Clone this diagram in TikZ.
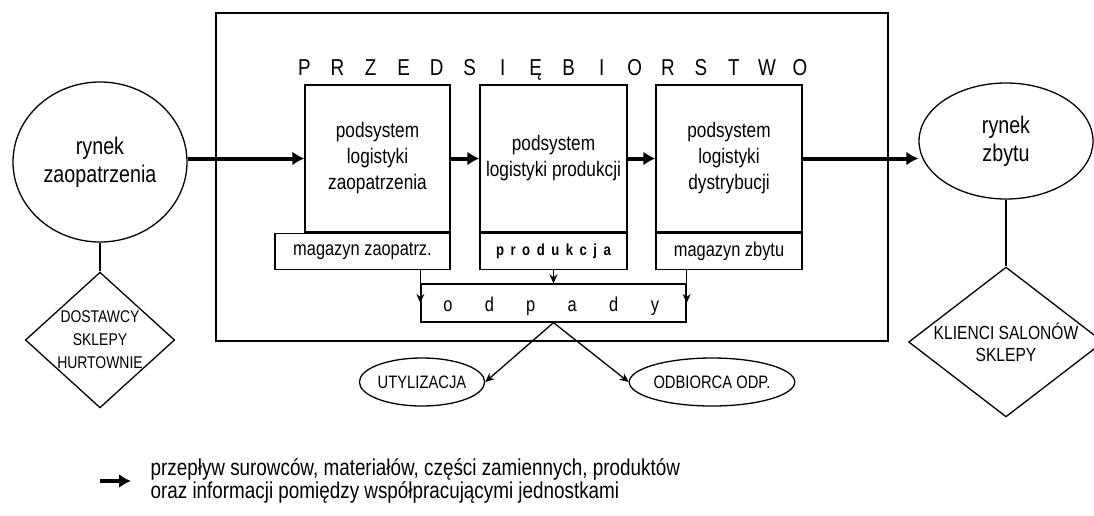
\documentclass[tikz,border=0pt]{standalone}
\usepackage{fontspec}
\setmainfont{Liberation Sans}[FakeStretch=0.82]
\usepackage{tikz}
\usetikzlibrary{arrows.meta}
\usetikzlibrary{positioning}
\usetikzlibrary{shapes.geometric}

\begin{document}
\begin{tikzpicture}[x=1pt,y=-1pt,line width=1.3pt,
  rynek/.style={draw,ellipse,inner sep=0pt,align=center,font=\fontsize{24}{28}\selectfont},
  podsys/.style={draw,inner sep=0pt,minimum height=147,align=center,font=\fontsize{21}{26}\selectfont},
  magazyn/.style={draw,inner sep=0pt,minimum height=36,font=\fontsize{20}{24}\selectfont},
  romb/.style={draw,diamond,inner sep=0pt,align=center},
  odpad/.style={draw,ellipse,inner sep=0pt,minimum width=115,minimum height=48,font=\fontsize{18}{22}\selectfont},
  litera/.style={anchor=base,inner sep=0pt},
  gruba/.style={line width=4pt,-{Latex[length=12pt,width=14pt]}},
  cienka/.style={line width=1.3pt,-{Stealth[length=9pt,width=8pt]}}]
\useasboundingbox (0,0) rectangle (1094,515);
\draw[line width=1.7pt] (216,13) rectangle (888,341);
\foreach \l [count=\i from 0] in {P,R,Z,E,D,S,I,Ę,B,I,O,R,S,T,W,O}
  \node[litera,font=\fontsize{23}{26}\selectfont] (t\i) at (304.5+33.03*\i,75) {\l};
\node[rynek,minimum width=174,minimum height=160] (rz) at (100,162) {rynek\\zaopatrzenia};
\node[rynek,minimum width=174,minimum height=116] (rb) at (1006,141) {rynek\\zbytu};
\node[podsys,minimum width=145] (p1) at (377.5,158.5) {podsystem\\logistyki\\zaopatrzenia};
\node[podsys,minimum width=147] (p2) at (553.5,158.5) {podsystem\\logistyki produkcji};
\node[podsys,minimum width=146] (p3) at (729,158.5) {podsystem\\logistyki\\dystrybucji};
\node[magazyn,minimum width=175,anchor=north east] (m1) at (p1.south east) {magazyn zaopatrz.};
\node[magazyn,minimum width=147,below=0pt of p2,font=\fontsize{16}{18}\selectfont\bfseries\addfontfeatures{LetterSpace=18}] (m2) {p r o d u k c j a};
\node[magazyn,minimum width=146,below=0pt of p3] (m3) {magazyn zbytu};
\node[draw,inner sep=0pt,minimum width=265,minimum height=38] (odp) at (553.5,303) {};
\foreach \l [count=\i from 0] in {o,d,p,a,d,y}
  \node[litera,font=\fontsize{20}{24}\selectfont] (o\i) at (448+41.4*\i,311) {\l};
\node[romb,aspect=1.1,font=\fontsize{17}{23}\selectfont] (dost) at (100,340) {DOSTAWCY\\SKLEPY\\HURTOWNIE};
\node[romb,aspect=1.3,font=\fontsize{19}{22}\selectfont] (kl) at (1006,342) {KLIENCI SALONÓW\\SKLEPY};
\node[odpad] (utyl) at (422,382) {UTYLIZACJA};
\node[odpad] (odb) at (712,382) {ODBIORCA ODP.};
\draw[gruba] (rz.east |- p1.west) -- (p1.west);
\draw[gruba] (p1) -- (p2);
\draw[gruba] (p2) -- (p3);
\draw[gruba] (p3.east) -- (rb.west |- p3.east);
\draw (rz) -- (dost);
\draw (rb) -- (kl);
\draw[cienka] (m1.south -| odp.west) -- (odp.west);
\draw[cienka] (m2) -- (odp);
\draw[cienka] (m3.south -| odp.east) -- (odp.east);
\draw[cienka] (odp.south) -- (utyl.east);
\draw[cienka] (odp.south) -- (odb.west);
\coordinate (l0) at (100,481);
\coordinate (l1) at (131,481);
\draw[gruba] (l0) -- (l1);
\node[anchor=west,inner sep=0pt,align=left,font=\fontsize{23}{20}\selectfont] (opis) at (150,481) {przepływ surowców, materiałów, części zamiennych, produktów\\oraz informacji pomiędzy współpracującymi jednostkami};
\end{tikzpicture}
\end{document}
